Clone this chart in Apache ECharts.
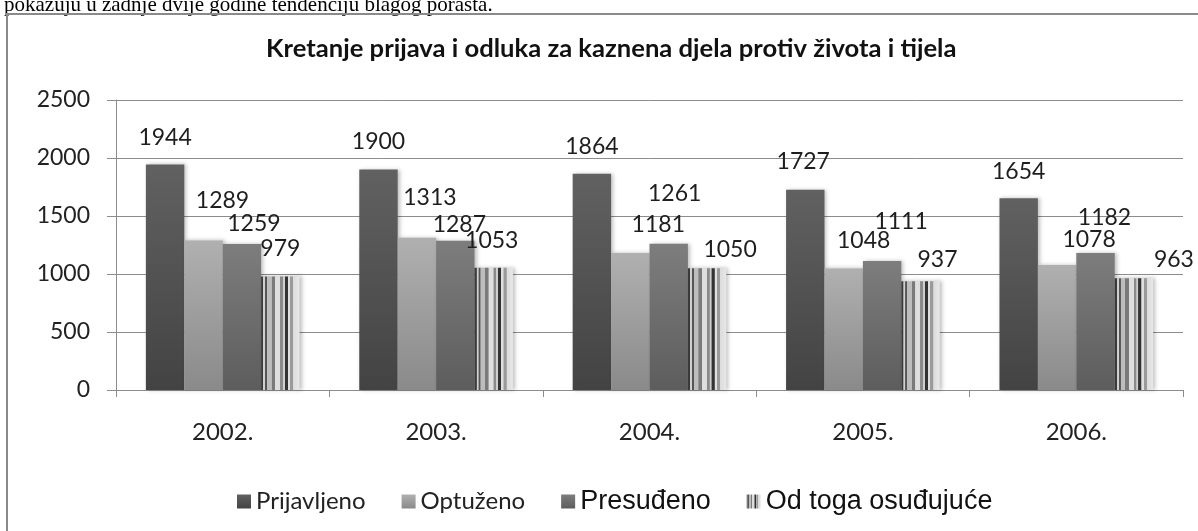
<!DOCTYPE html>
<html>
<head>
<meta charset="utf-8">
<script src="https://cdn.jsdelivr.net/npm/echarts@6/dist/echarts.min.js"></script>
<style>
html,body{margin:0;padding:0;background:#fff;}
#c{width:1198px;height:531px;}
</style>
</head>
<body>
<div id="c"></div>
<script>
// ---- data ----
const categories = ['2002.', '2003.', '2004.', '2005.', '2006.'];
const seriesNames = ['Prijavljeno', 'Optuženo', 'Presuđeno', 'Od toga osuđujuće'];
const prijavljeno = [1944, 1900, 1864, 1727, 1654];
const optuzeno = [1289, 1313, 1181, 1048, 1078];
const presudeno = [1259, 1287, 1261, 1111, 1182];
const osudujuce = [979, 1053, 1050, 937, 963];
const yTicks = [0, 500, 1000, 1500, 2000, 2500];

// ---- label placement (relative shifts: [dx, height above bar top]) ----
const labelShift = [
  [[0, 27], [0, 28], [0, 27], [-2, 28], [0, 27]],
  [[19, 40], [13, 40], [28, 28], [20, 28], [32, 25]],
  [[12, 20], [4, 16], [6, 50], [19, 40], [9, 35]],
  [[0, 28], [-2, 27], [23, 19], [17, 22], [40, 19]]
];

function vgrad(top, bottom) {
  return new echarts.graphic.LinearGradient(0, 0, 0, 1, [
    { offset: 0, color: top }, { offset: 1, color: bottom }
  ]);
}
function stripes() {
  const st = [
    [0.00, '#3a3a3a'], [0.05, '#3a3a3a'], [0.06, '#d0d0d0'], [0.10, '#d0d0d0'],
    [0.11, '#555'], [0.15, '#555'], [0.16, '#bdbdbd'], [0.27, '#bdbdbd'],
    [0.28, '#7a7a7a'], [0.36, '#7a7a7a'], [0.37, '#dedede'], [0.49, '#dedede'],
    [0.50, '#8a8a8a'], [0.56, '#8a8a8a'], [0.57, '#cfcfcf'], [0.61, '#cfcfcf'],
    [0.62, '#333'], [0.69, '#333'], [0.70, '#e0e0e0'], [0.75, '#e0e0e0'],
    [0.76, '#9a9a9a'], [0.83, '#9a9a9a'], [0.84, '#dcdcdc'], [1.00, '#e8e8e8']
  ];
  return new echarts.graphic.LinearGradient(0, 0, 1, 0,
    st.map(s => ({ offset: s[0], color: s[1] })));
}

const fills = [
  vgrad('#616161', '#434343'),
  vgrad('#b0b0b0', '#8a8a8a'),
  vgrad('#7d7d7d', '#5d5d5d'),
  stripes()
];
const values = [prijavljeno, optuzeno, presudeno, osudujuce];

const series = values.map((vals, si) => ({
  name: seriesNames[si],
  type: 'bar',
  barGap: '0%',
  barCategoryGap: '28%',
  itemStyle: {
    color: fills[si],
    shadowColor: 'rgba(0,0,0,0.25)',
    shadowBlur: 4,
    shadowOffsetX: 2
  },
  label: {
    show: true,
    position: 'top',
    distance: 0,
    verticalAlign: 'middle',
    fontFamily: 'Lato',
    fontSize: 23,
    color: '#1e1e1e'
  },
  data: vals.map((v, i) => ({
    value: v,
    label: { offset: [labelShift[si][i][0], -labelShift[si][i][1]] }
  }))
}));

const chart = echarts.init(document.getElementById('c'), null, { renderer: 'canvas' });
chart.setOption({
  backgroundColor: '#ffffff',
  animation: false,
  title: {
    text: 'Kretanje prijava i odluka za kaznena djela protiv života i tijela',
    left: 261,
    top: 31,
    textStyle: { fontFamily: 'Lato', fontWeight: 'bold', fontSize: 25.6, color: '#111' }
  },
  graphic: [
    {
      type: 'text', x: 4, y: -5,
      style: {
        text: 'pokazuju u zadnje dvije godine tendenciju blagog porasta.',
        font: '21px "Liberation Serif"', fill: '#000', verticalAlign: 'top'
      }
    },
    {
      type: 'rect', shape: { x: 7, y: 14, width: 1250, height: 600 },
      style: { fill: 'none', stroke: '#8a8a8a', lineWidth: 2 }
    }
  ],
  legend: {
    left: 232,
    top: 483,
    icon: 'rect',
    itemWidth: 14,
    itemHeight: 14,
    itemGap: 36,
    data: [
      { name: seriesNames[0], textStyle: { fontFamily: 'Lato', fontSize: 24, color: '#222' } },
      { name: seriesNames[1], textStyle: { fontFamily: 'Lato', fontSize: 24, color: '#222' } },
      { name: seriesNames[2], textStyle: { fontFamily: 'Liberation Sans', fontSize: 27, color: '#111' } },
      { name: seriesNames[3], textStyle: { fontFamily: 'Liberation Sans', fontSize: 27, color: '#111' } }
    ]
  },
  grid: { left: 116, right: 15, top: 100, bottom: 141, containLabel: false },
  xAxis: {
    type: 'category',
    data: categories,
    axisLine: { show: true, lineStyle: { color: '#8c8c8c', width: 1 } },
    axisTick: { show: true, length: 7, alignWithLabel: false, lineStyle: { color: '#8c8c8c' } },
    axisLabel: { margin: 30, fontFamily: 'Lato', fontSize: 24, color: '#222' },
    splitLine: { show: false }
  },
  yAxis: {
    type: 'value',
    min: yTicks[0],
    max: yTicks[yTicks.length - 1],
    interval: yTicks[1] - yTicks[0],
    axisLine: { show: true, lineStyle: { color: '#8c8c8c', width: 1 } },
    axisTick: { show: true, length: 9, lineStyle: { color: '#8c8c8c' } },
    axisLabel: { margin: 26, fontFamily: 'Lato', fontSize: 23, color: '#222', formatter: v => String(v) },
    splitLine: { show: true, lineStyle: { color: '#8c8c8c', width: 1 } }
  },
  series: series
});
</script>
</body>
</html>
